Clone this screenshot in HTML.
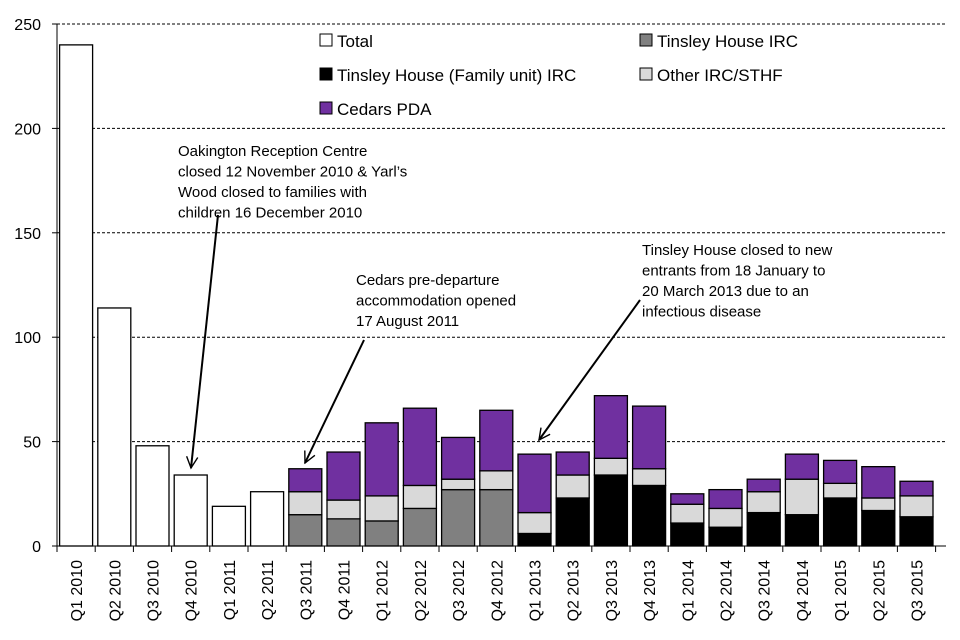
<!DOCTYPE html>
<html><head><meta charset="utf-8"><style>
body{margin:0;background:#fff;}
svg{display:block;font-family:"Liberation Sans",sans-serif;}
</style></head><body>
<svg id="chart" width="960" height="640" viewBox="0 0 960 640">
<defs><marker id="ah" viewBox="0 0 20 20" refX="18" refY="10" markerWidth="14" markerHeight="14" orient="auto" markerUnits="userSpaceOnUse"><path d="M2,2 L18,10 L2,18" fill="none" stroke="#000" stroke-width="2"/></marker></defs>
<g id="grid"></g>
<g id="bars"></g>
<g id="axes"></g>
<g font-size="17">
<rect x="320" y="34" width="12" height="12" fill="#fff" stroke="#000"/><text x="337" y="47">Total</text>
<rect x="640" y="34" width="12" height="12" fill="#808080" stroke="#000"/><text x="657" y="47">Tinsley House IRC</text>
<rect x="320" y="68" width="12" height="12" fill="#000" stroke="#000"/><text x="337" y="81">Tinsley House (Family unit) IRC</text>
<rect x="640" y="68" width="12" height="12" fill="#d9d9d9" stroke="#000"/><text x="657" y="81">Other IRC/STHF</text>
<rect x="320" y="102" width="12" height="12" fill="#7030a0" stroke="#000"/><text x="337" y="115">Cedars PDA</text>
</g>
<g font-size="15">
<text x="178" y="156"><tspan x="178">Oakington Reception Centre</tspan><tspan x="178" dy="20.5">closed 12 November 2010 &amp; Yarl’s</tspan><tspan x="178" dy="20.5">Wood closed to families with</tspan><tspan x="178" dy="20.5">children 16 December 2010</tspan></text>
<text x="356" y="285"><tspan x="356">Cedars pre-departure</tspan><tspan x="356" dy="20.5">accommodation  opened</tspan><tspan x="356" dy="20.5">17 August 2011</tspan></text>
<text x="642" y="255"><tspan x="642">Tinsley House closed to new</tspan><tspan x="642" dy="20.5">entrants from 18 January to</tspan><tspan x="642" dy="20.5">20 March 2013 due to an</tspan><tspan x="642" dy="20.5">infectious disease</tspan></text>
<line x1="218" y1="215" x2="191" y2="468" stroke="#000" stroke-width="2" marker-end="url(#ah)"/>
<line x1="364" y1="340" x2="305" y2="463" stroke="#000" stroke-width="2" marker-end="url(#ah)"/>
<line x1="640" y1="300" x2="539" y2="440" stroke="#000" stroke-width="2" marker-end="url(#ah)"/>
</g>
</svg>
<script>
const categories=["Q1 2010","Q2 2010","Q3 2010","Q4 2010","Q1 2011","Q2 2011","Q3 2011","Q4 2011","Q1 2012","Q2 2012","Q3 2012","Q4 2012","Q1 2013","Q2 2013","Q3 2013","Q4 2013","Q1 2014","Q2 2014","Q3 2014","Q4 2014","Q1 2015","Q2 2015","Q3 2015"];
const total=[240,114,48,34,19,26,0,0,0,0,0,0,0,0,0,0,0,0,0,0,0,0,0];
const tinsley=[0,0,0,0,0,0,15,13,12,18,27,27,0,0,0,0,0,0,0,0,0,0,0];
const family=[0,0,0,0,0,0,0,0,0,0,0,0,6,23,34,29,11,9,16,15,23,17,14];
const other=[0,0,0,0,0,0,11,9,12,11,5,9,10,11,8,8,9,9,10,17,7,6,10];
const cedars=[0,0,0,0,0,0,11,23,35,37,20,29,28,11,30,30,5,9,6,12,11,15,7];
const yTicks=[0,50,100,150,200,250];
const NS="http://www.w3.org/2000/svg";
const X0=57,STEP=38.2,Y0=546,PX=2.088,BW=33;
const y=v=>Y0-v*PX;
const xc=i=>X0+STEP*(i+0.5);
function mk(t,a,p){const e=document.createElementNS(NS,t);for(const k in a)e.setAttribute(k,a[k]);p.appendChild(e);return e;}
const grid=document.getElementById('grid'),bars=document.getElementById('bars'),axes=document.getElementById('axes');
yTicks.forEach(v=>{
 if(v>0){const l=mk('line',{x1:X0,x2:946,y1:y(v),y2:y(v),stroke:'#000','stroke-dasharray':'3,2','stroke-width':1},grid);
 
 }
 const t=mk('text',{x:41,y:y(v)+6,'text-anchor':'end','font-size':16},axes);t.textContent=v;
 
 
 mk('line',{x1:X0-5,x2:X0,y1:y(v),y2:y(v),stroke:'#000'},axes);
});
const series=[[family,'#000','family'],[tinsley,'#808080','tinsley'],[other,'#d9d9d9','other'],[cedars,'#7030a0','cedars'],[total,'#fff','total']];
categories.forEach((c,i)=>{
 let base=0;
 series.forEach(([arr,col,nm])=>{
  const v=arr[i];if(!v)return;
  const r=mk('rect',{x:xc(i)-BW/2,y:y(base+v),width:BW,height:v*PX,fill:col,stroke:'#000','stroke-width':1.3},bars);
  
  
  base+=v;
 });
 const t=mk('text',{transform:`translate(${xc(i)+6},560) rotate(-90)`,'text-anchor':'end','font-size':16},axes);t.textContent=c;
 
 
 mk('line',{x1:X0+STEP*i,x2:X0+STEP*i,y1:Y0,y2:Y0+6,stroke:'#000'},axes);
});
mk('line',{x1:X0+STEP*23,x2:X0+STEP*23,y1:Y0,y2:Y0+6,stroke:'#000'},axes);
mk('line',{x1:X0,x2:X0,y1:y(250),y2:Y0,stroke:'#000'},axes);
mk('line',{x1:X0,x2:946,y1:Y0,y2:Y0,stroke:'#000'},axes);
</script>
</body></html>
